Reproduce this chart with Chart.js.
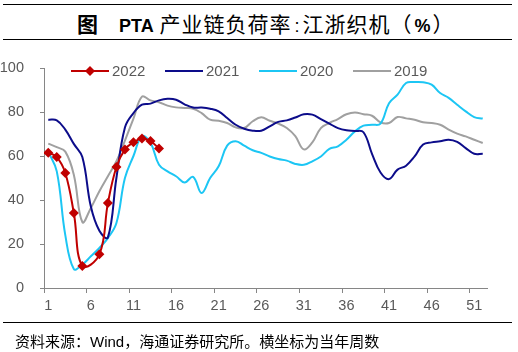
<!DOCTYPE html>
<html>
<head>
<meta charset="utf-8">
<script src="https://cdn.jsdelivr.net/npm/chart.js@4.4.1/dist/chart.umd.min.js"></script>
<style>
  body { margin: 0; width: 518px; height: 352px; position: relative; background: #fff; overflow: hidden; }
  .rule { position: absolute; left: 3px; width: 509px; height: 0; border-top: 1.5px solid #000; }
  #title { position: absolute; left: 77px; top: 9px; height: 28px; line-height: 28px; white-space: nowrap;
           font-family: "Noto Sans CJK SC", sans-serif; font-size: 21px; color: #000; letter-spacing: 1px; }
  #title .lat { font-family: "Liberation Sans", Arial, sans-serif; font-weight: bold; font-size: 18px; letter-spacing: 0; }
  #src { position: absolute; left: 15px; top: 331px; line-height: 20px; white-space: nowrap;
         font-family: "Noto Sans CJK SC", sans-serif; font-size: 15px; color: #000; }
  #src .lat { font-family: "Liberation Sans", Arial, sans-serif; }
  canvas { position: absolute; left: 0; top: 0; }
</style>
</head>
<body>
<div class="rule" style="top:4px"></div>
<div id="title"><span style="font-weight:bold">图</span><span style="display:inline-block;width:20px"></span><span class="lat">PTA</span> 产业链负荷率<span class="lat" style="font-weight:normal;padding:0 3px">:</span>江浙织机（<span class="lat" style="padding:0 2px">%</span>）</div>
<div class="rule" style="top:39px"></div>
<canvas id="chart" width="518" height="352"></canvas>
<div class="rule" style="top:322px"></div>
<div id="src">资料来源：<span class="lat">Wind</span>，海通证券研究所。横坐标为当年周数</div>

<script>
// 横坐标：当年周数
const weeks = [1,2,3,4,5,6,7,8,9,10,11,12,13,14,15,16,17,18,19,20,21,22,23,24,25,26,
  27,28,29,30,31,32,33,34,35,36,37,38,39,40,41,42,43,44,45,46,47,48,49,50,51,52];
const xTickWeeks = [1, 6, 11, 16, 21, 26, 31, 36, 41, 46, 51];
const yTicks = [0, 20, 40, 60, 80, 100];

const y2022 = [61.5, 59.5, 52.3, 34.1, 10, null, 15.3, 38.6, 55, 63, 66.2, 68, 66.8, 63.4];
const y2021 = [76.5, 76.2, 72, 65.5, 59.5, 37, 26, 23, 50, 73,
  79.5, 83.3, 83.8, 85.3, 86, 85.6, 83.5, 82, 82, 81.5,
  80.3, 77.3, 74.2, 72.4, 71.5, 71.5, 73.5, 75.5, 76.2, 77.5,
  79, 78.8, 76.8, 74.7, 72.7, 71.7, 71.4, 70.8, 61, 52.5,
  49.5, 53.8, 55.6, 59.8, 65.2, 66.2, 66.7, 67.4, 66.4, 63.6, 61, 61];
const y2020 = [62, 53, 24, 8.6, 10.6, 14.4, 18.2, 22.7, 29.5, 50,
  60, 69, 66, 56, 53, 50.8, 48, 50.5, 43.2, 50,
  55.3, 64.7, 66.7, 64.7, 62.6, 61.4, 59.8, 58.6, 57.9, 56.4,
  56, 57.6, 59.8, 63.2, 64.4, 67.4, 71.2, 73.8, 74.2, 74.7,
  84, 87.9, 93.2, 93.6, 93.5, 92.4, 88.6, 86.4, 83.3, 80.3, 77.7, 77];
const y2019 = [65.6, 64, 62, 51.5, 30, 36.4, 44, 50.8, 57.6, 67,
  77, 87, 85.3, 84.4, 82.9, 82.1, 81.8, 81.5, 79.5, 76.5,
  76, 75, 73, 72.7, 75.8, 77.6, 76, 74.7, 72.7, 69,
  63, 66.2, 72.7, 75, 76.8, 79, 79.8, 79, 78.3, 75.3,
  75, 77.7, 77.1, 76.5, 75.3, 75, 74.2, 72, 70.2, 68.9, 67.4, 65.9];

const toPoints = vals => vals.map((v, i) => ({ x: weeks[i], y: v }));

const series = [
  { label: '2022', data: y2022, color: '#C00000', marker: true },
  { label: '2021', data: y2021, color: '#0C0C8A', marker: false },
  { label: '2020', data: y2020, color: '#1CC6F4', marker: false },
  { label: '2019', data: y2019, color: '#A0A0A0', marker: false }
];

const axisGray = '#868686';
const textGray = '#595959';
const tickFont = { family: '"Liberation Sans", Arial, sans-serif', size: 14.5 };

// 图例画在绘图区内部顶端
const insideLegend = {
  id: 'insideLegend',
  afterDraw(chart) {
    const ctx = chart.ctx;
    let x = 71;
    const y = 71;
    ctx.save();
    chart.data.datasets.forEach(ds => {
      ctx.strokeStyle = ds.borderColor;
      ctx.lineWidth = 2;
      ctx.beginPath();
      ctx.moveTo(x, y);
      ctx.lineTo(x + 38, y);
      ctx.stroke();
      if (ds.pointRadius > 0) {
        ctx.fillStyle = ds.borderColor;
        ctx.beginPath();
        ctx.moveTo(x + 19, y - 5);
        ctx.lineTo(x + 24, y);
        ctx.lineTo(x + 19, y + 5);
        ctx.lineTo(x + 14, y);
        ctx.closePath();
        ctx.fill();
      }
      ctx.fillStyle = textGray;
      ctx.font = '15px "Liberation Sans", Arial, sans-serif';
      ctx.textBaseline = 'middle';
      ctx.fillText(ds.label, x + 41, y + 1);
      x += 94;
    });
    ctx.restore();
  }
};

new Chart(document.getElementById('chart'), {
  type: 'line',
  data: {
    datasets: series.map(s => ({
      label: s.label,
      data: toPoints(s.data),
      borderColor: s.color,
      backgroundColor: s.color,
      borderWidth: 2,
      tension: 0.4,
      spanGaps: true,
      pointStyle: 'rectRot',
      pointRadius: s.marker ? 5 : 0,
      pointHoverRadius: s.marker ? 5 : 0,
      pointBorderWidth: 0
    }))
  },
  options: {
    responsive: false,
    animation: false,
    devicePixelRatio: 1,
    layout: { padding: { top: 68, left: 0, right: 31, bottom: 34 } },
    plugins: { legend: { display: false }, tooltip: { enabled: false } },
    scales: {
      x: {
        type: 'linear',
        min: 0.5,
        max: 52.5,
        afterBuildTicks: axis => { axis.ticks = xTickWeeks.map(w => ({ value: w - 0.5 })); },
        afterFit: axis => { axis.height = 30; },
        grid: { drawOnChartArea: false, tickLength: 5, color: axisGray },
        border: { color: axisGray, width: 1 },
        ticks: {
          color: textGray, font: tickFont, padding: 4, maxRotation: 0, autoSkip: false,
          labelOffset: 4.26,
          callback: v => String(v + 0.5)
        }
      },
      y: {
        min: 0,
        max: 100,
        afterBuildTicks: axis => { axis.ticks = yTicks.map(v => ({ value: v })); },
        afterFit: axis => { axis.width = 44; },
        grid: { drawOnChartArea: false, tickLength: 4, color: axisGray },
        border: { color: axisGray, width: 1 },
        ticks: { color: textGray, font: tickFont, padding: 16 }
      }
    }
  },
  plugins: [insideLegend]
});
</script>
</body>
</html>
